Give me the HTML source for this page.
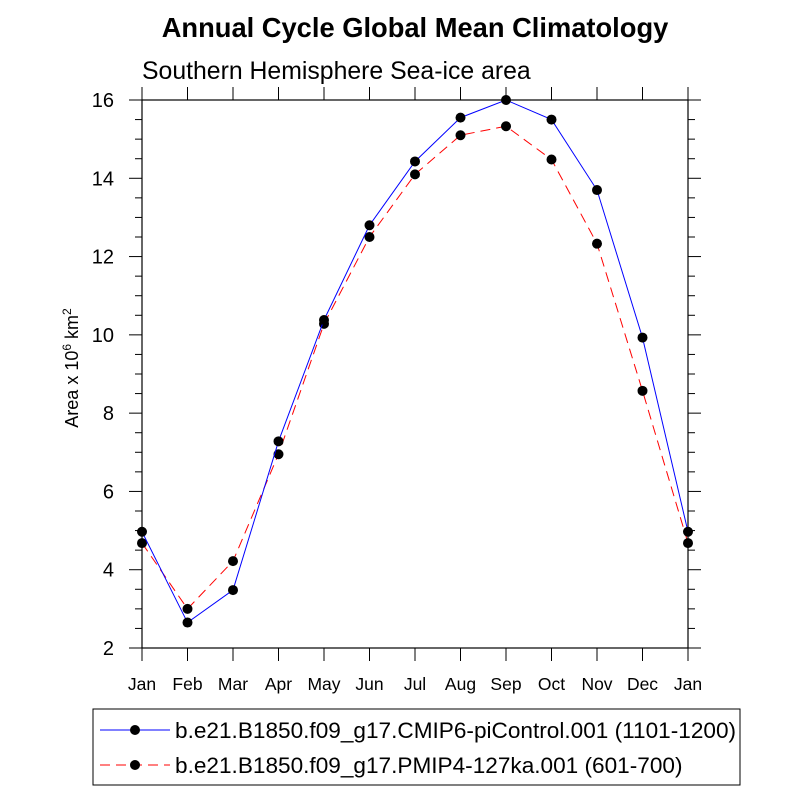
<!DOCTYPE html>
<html><head><meta charset="utf-8"><style>
body{margin:0;background:#fff;}
svg{display:block;font-family:"Liberation Sans",Arial,sans-serif;}
</style></head><body>
<svg id="chart" width="800" height="800">
<text x="415" y="37" text-anchor="middle" font-size="27.3" font-weight="bold">Annual Cycle Global Mean Climatology</text>
<text x="142" y="79" font-size="24.8">Southern Hemisphere Sea-ice area</text>
<text transform="translate(78,368) rotate(-90)" text-anchor="middle" font-size="18">Area x 10<tspan dy="-7" font-size="12">6</tspan><tspan dy="7"> km</tspan><tspan dy="-7" font-size="12">2</tspan></text>
<g id="axes"></g>
<g id="series"></g>
<g>
<rect x="93" y="709" width="647" height="76" fill="none" stroke="#000" stroke-width="1"/>
<g>
<line x1="100" y1="730" x2="170" y2="730" stroke="#0000ff" stroke-width="1"/>
<circle cx="135" cy="730" r="5" fill="#000"/>
<text x="175" y="738" font-size="22.6">b.e21.B1850.f09_g17.CMIP6-piControl.001 (1101-1200)</text>
</g>
<g>
<line x1="100" y1="765" x2="170" y2="765" stroke="#ff0000" stroke-width="1" stroke-dasharray="10,6"/>
<circle cx="135" cy="765" r="5" fill="#000"/>
<text x="175" y="773" font-size="22.6">b.e21.B1850.f09_g17.PMIP4-127ka.001 (601-700)</text>
</g>
</g>
</svg>
<script>
const months = ["Jan","Feb","Mar","Apr","May","Jun","Jul","Aug","Sep","Oct","Nov","Dec","Jan"];
const piControl = [4.97,2.65,3.48,7.28,10.38,12.8,14.43,15.55,16.0,15.5,13.7,9.93,4.97];
const pmip127ka = [4.68,3.0,4.22,6.95,10.28,12.5,14.1,15.1,15.33,14.48,12.33,8.57,4.68];
const yTicks = [2,4,6,8,10,12,14,16];

const X0=142,X1=688,Y0=648,Y1=100,YMIN=2,YMAX=16;
const xs=i=>X0+(X1-X0)*i/(months.length-1);
const ys=v=>Y0-(Y0-Y1)*(v-YMIN)/(YMAX-YMIN);
const NS="http://www.w3.org/2000/svg";
function mk(tag,attrs,parent){const e=document.createElementNS(NS,tag);for(const k in attrs)e.setAttribute(k,attrs[k]);parent.appendChild(e);return e;}
const ax=document.getElementById('axes');
const frame=mk('rect',{x:X0,y:Y1,width:X1-X0,height:Y0-Y1,fill:'none',stroke:'#000','stroke-width':1.2},ax);


months.forEach((m,i)=>{
  const x=xs(i);
  mk('line',{x1:x,y1:Y0,x2:x,y2:Y0+13,stroke:'#000','stroke-width':1},ax);
  mk('line',{x1:x,y1:Y1,x2:x,y2:Y1-13,stroke:'#000','stroke-width':1},ax);
  const t=mk('text',{x:x,y:690,'text-anchor':'middle','font-size':17.5},ax);
  t.textContent=m;
  
  
});
for(let v=YMIN;v<=YMAX+1e-9;v+=0.5){
  const y=ys(v);const major=Math.abs(v-Math.round(v/2)*2)<1e-9;const L=major?13:7;
  mk('line',{x1:X0-L,y1:y,x2:X0,y2:y,stroke:'#000','stroke-width':1},ax);
  mk('line',{x1:X1,y1:y,x2:X1+L,y2:y,stroke:'#000','stroke-width':1},ax);
}
yTicks.forEach(v=>{
  const t=mk('text',{x:114,y:ys(v)+7,'text-anchor':'end','font-size':20},ax);
  t.textContent=v;
  
  
});
const sg=document.getElementById('series');
function series(vals,color,dash,name){
  const g=mk('g',{},sg);
  
  
  const p=mk('polyline',{points:vals.map((v,i)=>xs(i)+','+ys(v)).join(' '),fill:'none',stroke:color,'stroke-width':1,'stroke-dasharray':dash},g);
  
  
  vals.forEach((v,i)=>{
    const c=mk('circle',{cx:xs(i),cy:ys(v),r:5,fill:'#000'},g);
    
    
  });
}
series(pmip127ka,'#ff0000','10,6','series-127ka');
series(piControl,'#0000ff','none','series-picontrol');
</script>
</body></html>
